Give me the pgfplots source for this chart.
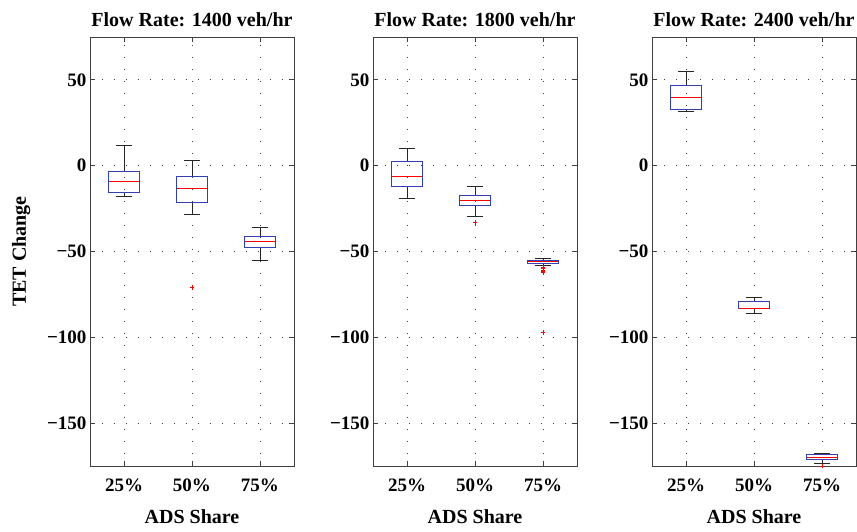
\documentclass[border=0pt]{standalone}
\usepackage{fontspec}
\setmainfont{Liberation Serif}
\usepackage{pgfplots}
\usepgfplotslibrary{statistics}
\pgfplotsset{compat=1.18}
\definecolor{boxblue}{rgb}{0.2,0.25,0.7}
\pgfplotsset{
 panel/.style={
  scale only axis, width=204pt, height=429pt,
  xmin=0.5,xmax=3.5, ymin=-175,ymax=75,
  xtick={1,2,3}, xticklabels={25\%,50\%,75\%},
  ytick={-150,-100,-50,0,50},
  yticklabels={−150,−100,−50,0,50},
  tick align=inside, tick pos=both,
  major tick length=5pt,
  grid=major,
  major grid style={black!75, line width=0.9pt, dash pattern=on 1.1pt off 10.9pt},
  axis line style={line width=1pt, black!75},
  every tick/.style={black!75, line width=0.9pt},
  tick label style={font=\fontsize{19}{22}\selectfont\bfseries},
  xticklabel style={yshift=-9pt},
  title style={font=\fontsize{20}{24}\selectfont\bfseries, yshift=1pt},
  xlabel={ADS Share},
  xlabel style={font=\fontsize{20}{24}\selectfont\bfseries, yshift=-11pt},
  ylabel style={font=\fontsize{20}{24}\selectfont\bfseries},
  ylabel shift=10pt,
  boxplot/draw direction=y,
  boxplot/box extend=0.45,
  boxplot/whisker extend=0.23,
  boxplot/every box/.style={draw=boxblue, line width=0.9pt},
  boxplot/every median/.style={draw=red, line width=1pt},
  boxplot/every whisker/.style={draw=black!85, line width=0.9pt},
 },
 bx/.style={mark=+, mark options={red, line width=0.8pt, scale=1.2}, only marks},
}
\begin{document}
\begin{tikzpicture}
\path[use as bounding box] (0pt,0pt) rectangle (857pt,531pt);
% Panel 1
\begin{axis}[panel, at={(90pt,65pt)}, anchor=south west,
  title={Flow Rate: 1400 veh/hr}, ylabel={TET Change}]
\addplot[bx, boxplot prepared={draw position=1, lower whisker=-18, lower quartile=-15.4, median=-9, upper quartile=-3.3, upper whisker=12}] coordinates {};
\addplot[bx, boxplot prepared={draw position=2, lower whisker=-28.3, lower quartile=-21.6, median=-13.1, upper quartile=-6.2, upper whisker=2.9}] table[row sep=\\, y index=0] {data\\ -71\\};
\addplot[bx, boxplot prepared={draw position=3, lower whisker=-55, lower quartile=-47.6, median=-44.1, upper quartile=-41.2, upper whisker=-36.2}] coordinates {};
\end{axis}
% Panel 2
\begin{axis}[panel, at={(373pt,65pt)}, anchor=south west,
  title={Flow Rate: 1800 veh/hr}]
\addplot[bx, boxplot prepared={draw position=1, lower whisker=-19.2, lower quartile=-12.3, median=-6.2, upper quartile=2.3, upper whisker=9.8}] coordinates {};
\addplot[bx, boxplot prepared={draw position=2, lower whisker=-29.3, lower quartile=-23.3, median=-20, upper quartile=-17.1, upper whisker=-12.3}] table[row sep=\\, y index=0] {data\\ -33.1\\};
\addplot[bx, boxplot prepared={draw position=3, lower whisker=-58.2, lower quartile=-56.7, median=-56, upper quartile=-55.2, upper whisker=-54.1}] table[row sep=\\, y index=0] {data\\ -59.2\\ -60\\ -60.8\\ -61.6\\ -62.4\\ -97\\};
\end{axis}
% Panel 3
\begin{axis}[panel, at={(652pt,65pt)}, anchor=south west,
  title={Flow Rate: 2400 veh/hr}]
\addplot[bx, boxplot prepared={draw position=1, lower whisker=31.8, lower quartile=32.9, median=39.9, upper quartile=46.6, upper whisker=55}] coordinates {};
\addplot[bx, boxplot prepared={draw position=2, lower whisker=-86, lower quartile=-83.2, median=-83, upper quartile=-79, upper whisker=-76.5}] coordinates {};
\addplot[bx, boxplot prepared={draw position=3, lower whisker=-173.5, lower quartile=-171.2, median=-170, upper quartile=-168.4, upper whisker=-167.6}] table[row sep=\\, y index=0] {data\\ -175\\};
\end{axis}
\end{tikzpicture}
\end{document}
